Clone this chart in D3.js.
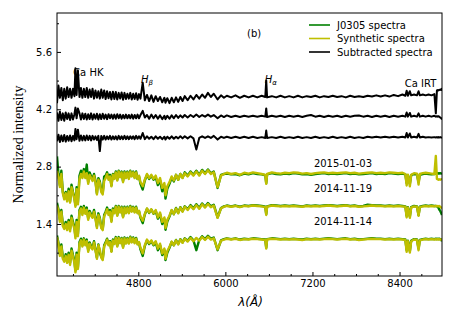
<!DOCTYPE html>
<html lang="en">
<head>
  <meta charset="UTF-8">
  <title>Spectra (b)</title>
  <style>
    body { margin: 0; background: #fff; overflow: hidden; }
    svg { display: block; }
    text { font-family: "DejaVu Sans", sans-serif; }
  </style>
</head>
<body>
  <div class="layout"></div>

  <script src="https://d3js.org/d3.v7.min.js"></script>
  <script>
    // wavelength grid (Angstrom), rows of 10
    const wave = [
      3680,3700,3720,3740,3760,3780,3800,3820,3840,3860,
      3880,3900,3920,3934,3950,3968,3990,4010,4030,4050,
      4070,4090,4110,4130,4150,4170,4190,4210,4230,4250,
      4270,4290,4310,4330,4350,4370,4390,4410,4430,4450,
      4470,4490,4510,4530,4550,4570,4590,4610,4630,4650,
      4670,4690,4710,4730,4750,4770,4790,4810,4830,4861,
      4890,4920,4950,4980,5010,5040,5070,5100,5130,5160,
      5175,5200,5230,5260,5290,5320,5350,5380,5410,5440,
      5480,5520,5560,5600,5640,5680,5720,5760,5800,5840,
      5893,5940,5980,6020,6080,6140,6200,6260,6320,6380,
      6440,6500,6550,6563,6575,6640,6700,6760,6820,6880,
      6940,7000,7060,7120,7180,7240,7300,7360,7420,7480,
      7540,7600,7660,7720,7780,7840,7900,7960,8020,8080,
      8140,8200,8260,8320,8380,8440,8480,8498,8515,8542,
      8560,8600,8640,8662,8680,8720,8760,8800,8840,8880,
      8900,8915,8925,8935,8945,8960,8975,8985
    ];

    // 2015-01-03 (shifted)
    const obs0103 = [
      3.05,2.62,2.34,2.70,2.18,2.05,2.18,2.00,2.26,1.95,
      2.36,2.18,2.04,1.86,2.30,1.92,2.58,2.70,2.56,2.74,
      2.58,2.85,2.42,2.66,2.56,2.50,2.62,2.46,2.15,2.52,
      2.44,2.22,2.16,2.56,2.58,2.66,2.52,2.60,2.34,2.62,
      2.53,2.68,2.48,2.70,2.56,2.68,2.45,2.68,2.55,2.68,
      2.52,2.70,2.58,2.68,2.54,2.68,2.50,2.56,2.38,2.24,
      2.46,2.60,2.50,2.58,2.48,2.54,2.35,2.46,2.20,2.32,
      2.02,2.26,2.38,2.53,2.44,2.60,2.48,2.62,2.53,2.66,
      2.58,2.68,2.60,2.70,2.60,2.72,2.64,2.73,2.64,2.68,
      2.28,2.60,2.62,2.63,2.61,2.62,2.59,2.63,2.61,2.64,
      2.62,2.61,2.59,2.40,2.61,2.64,2.62,2.61,2.63,2.62,
      2.64,2.63,2.61,2.62,2.60,2.62,2.63,2.64,2.62,2.63,
      2.62,2.63,2.64,2.62,2.63,2.61,2.62,2.63,2.64,2.62,
      2.63,2.62,2.64,2.63,2.62,2.63,2.61,2.40,2.59,2.38,
      2.59,2.62,2.61,2.42,2.60,2.62,2.63,2.62,2.61,2.62,
      2.63,2.64,2.63,2.64,2.63,2.64,2.63,2.62
    ];
    const syn0103 = [
      2.70,2.55,2.30,2.62,2.15,2.00,2.15,1.95,2.20,1.92,
      2.30,2.15,2.00,1.82,2.25,1.88,2.50,2.62,2.52,2.68,
      2.52,2.64,2.38,2.60,2.52,2.45,2.58,2.42,2.12,2.48,
      2.40,2.18,2.12,2.45,2.52,2.62,2.48,2.56,2.32,2.60,
      2.50,2.66,2.46,2.68,2.54,2.66,2.42,2.66,2.52,2.66,
      2.50,2.68,2.56,2.66,2.52,2.66,2.50,2.58,2.42,2.32,
      2.48,2.62,2.52,2.60,2.50,2.58,2.40,2.52,2.28,2.40,
      2.10,2.32,2.42,2.56,2.46,2.60,2.48,2.62,2.52,2.64,
      2.56,2.66,2.58,2.68,2.58,2.70,2.62,2.71,2.62,2.66,
      2.30,2.58,2.62,2.65,2.62,2.64,2.60,2.65,2.63,2.66,
      2.64,2.62,2.60,2.38,2.62,2.66,2.64,2.63,2.65,2.64,
      2.66,2.65,2.63,2.64,2.62,2.64,2.65,2.66,2.64,2.65,
      2.64,2.65,2.66,2.64,2.65,2.63,2.64,2.65,2.66,2.64,
      2.65,2.64,2.66,2.65,2.64,2.65,2.62,2.34,2.60,2.32,
      2.60,2.64,2.63,2.36,2.62,2.64,2.65,2.64,2.63,2.62,
      3.06,2.50,2.49,2.48,2.49,2.48,2.49,2.48
    ];

    // 2014-11-19 (shifted)
    const obs1119 = [
      1.92,1.76,1.50,1.74,1.40,1.32,1.45,1.30,1.50,1.28,
      1.60,1.45,1.32,1.10,1.50,1.15,1.74,1.82,1.66,1.84,
      1.70,1.80,1.54,1.72,1.64,1.58,1.74,1.56,1.34,1.66,
      1.55,1.32,1.28,1.62,1.70,1.80,1.66,1.74,1.48,1.78,
      1.69,1.84,1.62,1.84,1.70,1.82,1.58,1.82,1.68,1.82,
      1.68,1.84,1.72,1.82,1.70,1.82,1.68,1.71,1.55,1.42,
      1.63,1.77,1.67,1.75,1.65,1.72,1.53,1.64,1.40,1.52,
      1.26,1.46,1.58,1.73,1.64,1.79,1.67,1.81,1.71,1.83,
      1.76,1.86,1.78,1.88,1.79,1.90,1.82,1.91,1.83,1.87,
      1.56,1.79,1.83,1.85,1.83,1.85,1.82,1.85,1.84,1.86,
      1.85,1.84,1.82,1.64,1.83,1.86,1.85,1.84,1.85,1.84,
      1.85,1.84,1.83,1.85,1.84,1.85,1.84,1.85,1.86,1.85,
      1.84,1.85,1.86,1.84,1.85,1.83,1.84,1.87,1.86,1.85,
      1.85,1.84,1.85,1.84,1.85,1.84,1.83,1.60,1.81,1.58,
      1.81,1.84,1.83,1.62,1.82,1.84,1.85,1.84,1.85,1.84,
      1.84,1.83,1.82,1.80,1.76,1.72,1.66,1.62
    ];
    const syn1119 = [
      1.85,1.72,1.45,1.70,1.35,1.28,1.40,1.25,1.45,1.22,
      1.55,1.40,1.28,1.05,1.45,1.10,1.70,1.78,1.62,1.80,
      1.65,1.75,1.50,1.68,1.60,1.55,1.70,1.52,1.30,1.62,
      1.52,1.30,1.25,1.58,1.66,1.76,1.62,1.70,1.45,1.75,
      1.66,1.82,1.60,1.82,1.68,1.80,1.56,1.80,1.66,1.80,
      1.66,1.82,1.70,1.80,1.68,1.80,1.66,1.72,1.58,1.48,
      1.64,1.78,1.68,1.76,1.66,1.74,1.56,1.68,1.45,1.56,
      1.30,1.50,1.60,1.74,1.64,1.78,1.66,1.80,1.70,1.82,
      1.74,1.84,1.76,1.86,1.77,1.88,1.80,1.89,1.81,1.85,
      1.55,1.78,1.82,1.84,1.82,1.84,1.81,1.84,1.83,1.85,
      1.84,1.83,1.81,1.62,1.82,1.85,1.84,1.83,1.84,1.83,
      1.84,1.83,1.82,1.84,1.83,1.84,1.83,1.84,1.85,1.84,
      1.83,1.84,1.85,1.83,1.84,1.82,1.83,1.84,1.85,1.84,
      1.84,1.83,1.84,1.83,1.84,1.83,1.82,1.56,1.80,1.55,
      1.80,1.83,1.82,1.60,1.81,1.83,1.84,1.83,1.84,1.83,
      1.84,1.83,1.84,1.83,1.84,1.82,1.80,1.78
    ];

    // 2014-11-14
    const obs1114 = [
      1.12,0.94,0.66,0.90,0.60,0.52,0.66,0.50,0.70,0.45,
      0.80,0.64,0.50,0.26,0.70,0.34,0.96,1.04,0.88,1.05,
      0.92,1.02,0.76,0.95,0.86,0.82,0.98,0.78,0.58,0.90,
      0.70,0.60,0.55,0.88,0.95,1.04,0.90,0.98,0.74,1.02,
      0.94,1.08,0.87,1.08,0.95,1.06,0.84,1.07,0.94,1.06,
      0.94,1.09,0.97,1.07,0.95,1.06,0.92,0.94,0.78,0.62,
      0.86,1.00,0.91,0.98,0.88,0.95,0.76,0.88,0.64,0.76,
      0.52,0.70,0.82,0.96,0.88,1.01,0.91,1.03,0.95,1.05,
      0.99,1.08,1.00,0.76,1.01,1.10,1.03,1.11,1.04,1.07,
      0.76,1.00,1.03,1.05,1.03,1.05,1.02,1.04,1.03,1.05,
      1.04,1.03,1.02,0.82,1.03,1.05,1.04,1.03,1.04,1.03,
      1.04,1.03,1.02,1.04,1.03,1.04,1.03,1.04,1.05,1.04,
      1.03,1.04,1.05,1.03,1.04,1.02,1.03,1.04,1.05,1.04,
      1.04,1.03,1.04,1.03,1.04,1.03,1.02,0.76,0.99,0.74,
      0.99,1.03,1.02,0.80,1.01,1.03,1.04,1.03,1.04,1.03,
      1.04,1.03,1.04,1.03,1.04,1.03,1.02,0.98
    ];
    const syn1114 = [
      1.08,0.90,0.62,0.85,0.55,0.48,0.62,0.45,0.65,0.40,
      0.75,0.60,0.45,0.22,0.65,0.30,0.92,1.00,0.85,1.02,
      0.88,0.98,0.72,0.92,0.82,0.78,0.95,0.75,0.55,0.88,
      0.78,0.58,0.52,0.85,0.92,1.02,0.88,0.96,0.72,1.00,
      0.91,1.06,0.85,1.06,0.93,1.04,0.82,1.05,0.92,1.04,
      0.92,1.07,0.95,1.05,0.93,1.04,0.90,0.96,0.82,0.68,
      0.88,1.02,0.93,1.00,0.90,0.98,0.80,0.92,0.68,0.80,
      0.55,0.74,0.84,0.97,0.88,1.00,0.90,1.02,0.94,1.04,
      0.97,1.06,0.98,1.06,0.99,1.08,1.01,1.09,1.02,1.05,
      0.78,0.99,1.02,1.04,1.02,1.04,1.01,1.03,1.02,1.04,
      1.03,1.02,1.01,0.80,1.02,1.04,1.03,1.02,1.03,1.02,
      1.03,1.02,1.01,1.03,1.02,1.03,1.02,1.03,1.04,1.03,
      1.02,1.03,1.04,1.02,1.03,1.01,1.02,1.03,1.04,1.03,
      1.03,1.02,1.03,1.02,1.03,1.02,1.01,0.72,0.98,0.70,
      0.98,1.02,1.01,0.76,1.00,1.02,1.03,1.02,1.03,1.02,
      1.03,1.02,1.03,1.02,1.03,1.02,1.02,1.00
    ];

    // subtracted spectra (observed - synthetic, shifted)
    const sub0103 = [
      4.35,4.78,4.48,4.72,4.42,4.70,4.46,4.74,4.50,4.70,
      4.48,4.70,4.52,5.20,4.55,5.15,4.50,4.72,4.48,4.70,
      4.50,4.72,4.48,4.68,4.50,4.70,4.46,4.66,4.48,4.64,
      4.46,4.68,4.48,4.66,4.45,4.64,4.47,4.62,4.44,4.63,
      4.45,4.62,4.44,4.60,4.46,4.61,4.43,4.60,4.45,4.58,
      4.46,4.60,4.44,4.58,4.45,4.59,4.43,4.57,4.46,4.85,
      4.42,4.55,4.40,4.54,4.38,4.52,4.40,4.50,4.37,4.48,
      4.36,4.47,4.35,4.48,4.37,4.49,4.38,4.50,4.40,4.52,
      4.42,4.53,4.44,4.55,4.46,4.56,4.48,4.60,4.50,4.58,
      4.44,4.54,4.48,4.53,4.49,4.54,4.48,4.53,4.49,4.53,
      4.49,4.53,4.50,4.90,4.49,4.52,4.49,4.53,4.49,4.52,
      4.49,4.53,4.49,4.52,4.50,4.53,4.49,4.52,4.50,4.53,
      4.50,4.52,4.49,4.53,4.50,4.52,4.50,4.53,4.51,4.54,
      4.51,4.54,4.51,4.55,4.52,4.56,4.53,4.65,4.53,4.64,
      4.54,4.56,4.54,4.64,4.54,4.56,4.54,4.56,4.54,4.57,
      4.10,4.66,4.67,4.66,4.67,4.68,4.67,4.72
    ];
    const sub1119 = [
      4.12,3.92,4.14,3.94,4.10,3.92,4.12,3.96,4.10,3.94,
      4.10,3.95,4.08,4.24,3.98,4.22,4.10,3.95,4.10,3.96,
      4.09,3.95,4.08,3.96,4.10,3.95,4.08,3.97,4.09,3.95,
      4.08,3.96,4.09,3.97,4.07,3.96,4.08,3.98,4.07,3.97,
      4.07,3.97,4.08,3.98,4.07,3.97,4.06,3.98,4.07,3.98,
      4.06,3.98,4.07,3.97,4.06,3.98,4.07,3.98,4.06,4.16,
      4.00,4.06,3.97,4.07,3.98,4.06,3.97,4.05,3.96,4.04,
      3.96,4.04,3.97,4.05,3.98,4.06,3.99,4.05,4.00,4.06,
      4.00,4.06,4.01,4.07,4.01,4.06,4.02,4.07,4.02,4.06,
      3.98,4.05,4.01,4.05,4.01,4.04,4.01,4.04,4.02,4.04,
      4.02,4.04,4.02,4.22,4.01,4.04,4.02,4.04,4.01,4.04,
      4.02,4.04,4.01,4.04,4.06,4.02,4.04,4.01,4.04,4.02,
      4.04,4.01,4.04,4.02,4.04,4.05,4.02,4.04,4.01,4.04,
      4.02,4.04,4.01,4.04,4.02,4.04,4.02,4.12,4.02,4.11,
      4.02,4.04,4.02,4.10,4.02,4.04,4.02,4.04,4.02,4.04,
      4.02,4.03,4.02,4.03,4.02,4.00,3.98,3.95
    ];
    const sub1114 = [
      3.42,3.58,3.40,3.56,3.42,3.57,3.41,3.55,3.43,3.56,
      3.42,3.55,3.44,3.72,3.47,3.70,3.43,3.56,3.44,3.55,
      3.44,3.56,3.45,3.55,3.44,3.55,3.46,3.54,3.45,3.55,
      3.18,3.55,3.46,3.55,3.46,3.54,3.47,3.55,3.46,3.54,
      3.47,3.54,3.46,3.55,3.47,3.54,3.47,3.55,3.47,3.54,
      3.47,3.54,3.48,3.54,3.47,3.55,3.48,3.54,3.48,3.62,
      3.47,3.54,3.48,3.53,3.47,3.54,3.48,3.53,3.47,3.53,
      3.46,3.53,3.48,3.54,3.48,3.53,3.49,3.54,3.49,3.54,
      3.49,3.54,3.49,3.22,3.50,3.54,3.50,3.54,3.50,3.55,
      3.46,3.53,3.50,3.53,3.50,3.53,3.50,3.53,3.50,3.53,
      3.50,3.52,3.50,3.68,3.50,3.52,3.50,3.53,3.50,3.52,
      3.50,3.53,3.50,3.52,3.50,3.53,3.50,3.52,3.50,3.53,
      3.50,3.52,3.50,3.53,3.50,3.52,3.50,3.53,3.51,3.53,
      3.51,3.53,3.51,3.53,3.51,3.53,3.51,3.62,3.51,3.61,
      3.51,3.53,3.51,3.60,3.51,3.53,3.51,3.52,3.51,3.52,
      3.51,3.52,3.51,3.52,3.51,3.52,3.51,3.50
    ];

    const xTicks = [4800, 6000, 7200, 8400];
    const xMinor = [3900, 4200, 4500, 5100, 5400, 5700, 6300, 6600, 6900, 7500, 7800, 8100, 8700];
    const yTicks = [1.4, 2.8, 4.2, 5.6];
    const yMinor = [0.7, 2.1, 3.5, 4.9, 6.3];
    const dateLabels = ['2015-01-03', '2014-11-19', '2014-11-14'];
    const dateLevels = [2.79, 2.18, 1.375];
    const legendLabels = ['J0305 spectra', 'Synthetic spectra', 'Subtracted spectra'];
    const lineLabels = [
      {name: 'Ca HK', wl: 3930, y: 5.0},
      {name: 'H', sub: 'β', wl: 4850, y: 4.85},
      {name: 'H', sub: 'α', wl: 6555, y: 4.85},
      {name: 'Ca IRT', wl: 8500, y: 4.75}
    ];

    const SVGWIDTH = 463;
    const SVGHEIGHT = 316;
    const margin = {top: 13, right: 21, bottom: 40, left: 57};
    const innerWidth = SVGWIDTH - margin.left - margin.right;
    const innerHeight = SVGHEIGHT - margin.top - margin.bottom;

    const xScale = d3.scaleLinear().domain([3680, 8985]).range([0, innerWidth]);
    const yScale = d3.scaleLinear().domain([0.13, 6.55]).range([innerHeight, 0]);

    const svg = d3.select('.layout')
      .append('svg')
      .attr('width', SVGWIDTH)
      .attr('height', SVGHEIGHT);

    svg.append('defs').append('clipPath').attr('id', 'clip')
      .append('rect').attr('width', innerWidth).attr('height', innerHeight);

    const mainCont = svg.append('g')
      .attr('transform', `translate(${margin.left},${margin.top})`);

    const line = d3.line()
      .x(d => xScale(d[0]))
      .y(d => yScale(d[1]));
    const pair = vals => wave.map((w, i) => [w, vals[i]]).filter(d => d[1] != null);

    const plot = mainCont.append('g').attr('clip-path', 'url(#clip)');
    const series = [
      {vals: obs0103, color: '#008000'}, {vals: syn0103, color: '#bfbf00'},
      {vals: obs1119, color: '#008000'}, {vals: syn1119, color: '#bfbf00'},
      {vals: obs1114, color: '#008000'}, {vals: syn1114, color: '#bfbf00'},
      {vals: sub0103, color: '#000'}, {vals: sub1119, color: '#000'}, {vals: sub1114, color: '#000'}
    ];
    plot.selectAll('path')
      .data(series)
      .enter()
      .append('path')
      .attr('d', d => line(pair(d.vals)))
      .attr('fill', 'none')
      .attr('stroke', d => d.color)
      .attr('stroke-width', d => d.color === '#000' ? 2 : 2.4)
      .attr('stroke-linejoin', 'round');

    // axes, ticks pointing inward
    const xAxis = d3.axisBottom(xScale).tickValues(xTicks).tickSize(-4).tickPadding(4).tickFormat(d3.format('d'));
    const xAxisMinor = d3.axisBottom(xScale).tickValues(xMinor).tickSize(-2).tickFormat('');
    const yAxis = d3.axisLeft(yScale).tickValues(yTicks).tickSize(-4).tickPadding(5).tickFormat(d3.format('.1f'));
    const yAxisMinor = d3.axisLeft(yScale).tickValues(yMinor).tickSize(-2).tickFormat('');

    mainCont.append('g').attr('transform', `translate(0,${innerHeight})`).call(xAxis);
    mainCont.append('g').attr('class', 'minor').attr('transform', `translate(0,${innerHeight})`).call(xAxisMinor);
    mainCont.append('g').call(yAxis);
    mainCont.append('g').attr('class', 'minor').call(yAxisMinor);
    mainCont.selectAll('.minor text').remove();
    mainCont.selectAll('.tick text').attr('font-size', 10).attr('fill', '#000')
      .attr('font-family', '"DejaVu Sans", sans-serif');
    mainCont.selectAll('.domain').remove();

    mainCont.append('rect')
      .attr('width', innerWidth).attr('height', innerHeight)
      .attr('fill', 'none').attr('stroke', '#000').attr('stroke-width', 1);

    // axis titles
    svg.append('text')
      .attr('transform', `translate(23,${margin.top + innerHeight / 2}) rotate(-90)`)
      .attr('text-anchor', 'middle')
      .style('font-family', '"Liberation Serif", serif')
      .attr('font-size', 14)
      .text('Normalized intensity');
    svg.append('text')
      .attr('x', margin.left + innerWidth / 2 + 1).attr('y', 306)
      .attr('text-anchor', 'middle')
      .attr('font-size', 12)
      .attr('font-style', 'italic')
      .text('λ(Å)');

    // panel tag
    mainCont.append('text').attr('x', 190).attr('y', 24).attr('font-size', 10).text('(b)');

    // date labels
    mainCont.selectAll('.date')
      .data(dateLabels)
      .enter()
      .append('text')
      .attr('class', 'date')
      .attr('x', xScale(7620))
      .attr('y', (d, i) => yScale(dateLevels[i]))
      .attr('text-anchor', 'middle')
      .attr('font-size', 10)
      .text(d => d);

    // spectral line labels
    lineLabels.forEach(l => {
      const t = mainCont.append('text')
        .attr('x', xScale(l.wl) - (l.sub ? 1 : 2))
        .attr('y', yScale(l.y))
        .attr('font-size', 10);
      if (l.sub) {
        t.append('tspan').attr('font-style', 'italic').text(l.name);
        t.append('tspan').attr('font-size', 7).attr('font-style', 'italic').attr('dy', 2.5).text(l.sub);
      } else {
        t.text(l.name);
      }
    });

    // legend
    const legendColors = ['#008000', '#bfbf00', '#000'];
    const legend = mainCont.append('g').attr('transform', 'translate(252,12)');
    legendLabels.forEach((name, i) => {
      const g = legend.append('g').attr('transform', `translate(0,${i * 13.5})`);
      g.append('line').attr('x1', 0).attr('x2', 21)
        .attr('stroke', legendColors[i]).attr('stroke-width', 1.6);
      g.append('text').attr('x', 28).attr('y', 3.6).attr('font-size', 10).text(name);
    });
  </script>
</body>
</html>
